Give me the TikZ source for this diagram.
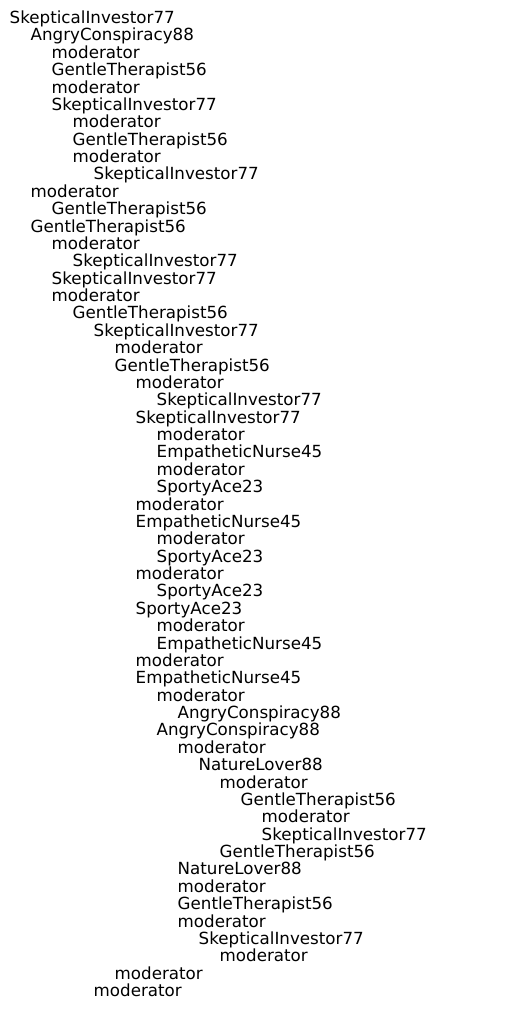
\documentclass[tikz,border=0pt]{standalone}
\usepackage{fontspec}
\setmainfont{DejaVu Sans}
\usetikzlibrary{calc}
\tikzset{entry/.style={anchor=base west, inner sep=0pt, text=black,
    font=\fontsize{16.7bp}{18bp}\selectfont}}

\begin{document}
\begin{tikzpicture}[x=1bp,y=1bp]
                    \def\indentstep{21}
                    \def\linestep{17.375}
                    \coordinate (origin) at (9.5,-23.5);
                    \useasboundingbox (0,0) rectangle (515,-1026);
                    
                    % one line per message, level = depth of the reply
                    \foreach \lvl/\name [count=\i] in {
                      0/SkepticalInvestor77, 1/AngryConspiracy88, 2/moderator,
                      2/GentleTherapist56, 2/moderator, 2/SkepticalInvestor77,
                      3/moderator, 3/GentleTherapist56, 3/moderator,
                      4/SkepticalInvestor77, 1/moderator, 2/GentleTherapist56,
                      1/GentleTherapist56, 2/moderator, 3/SkepticalInvestor77,
                      2/SkepticalInvestor77, 2/moderator, 3/GentleTherapist56,
                      4/SkepticalInvestor77, 5/moderator, 5/GentleTherapist56,
                      6/moderator, 7/SkepticalInvestor77, 6/SkepticalInvestor77,
                      7/moderator, 7/EmpatheticNurse45, 7/moderator,
                      7/SportyAce23, 6/moderator, 6/EmpatheticNurse45,
                      7/moderator, 7/SportyAce23, 6/moderator,
                      7/SportyAce23, 6/SportyAce23, 7/moderator,
                      7/EmpatheticNurse45, 6/moderator, 6/EmpatheticNurse45,
                      7/moderator, 8/AngryConspiracy88, 7/AngryConspiracy88,
                      8/moderator, 9/NatureLover88, 10/moderator,
                      11/GentleTherapist56, 12/moderator, 12/SkepticalInvestor77,
                      10/GentleTherapist56, 8/NatureLover88, 8/moderator,
                      8/GentleTherapist56, 8/moderator, 9/SkepticalInvestor77,
                      10/moderator, 5/moderator, 4/moderator}
                      \node[entry] (line\i) at ($(origin)+({\lvl*\indentstep},{-(\i-1)*\linestep})$) {\name};
\end{tikzpicture}
\end{document}
